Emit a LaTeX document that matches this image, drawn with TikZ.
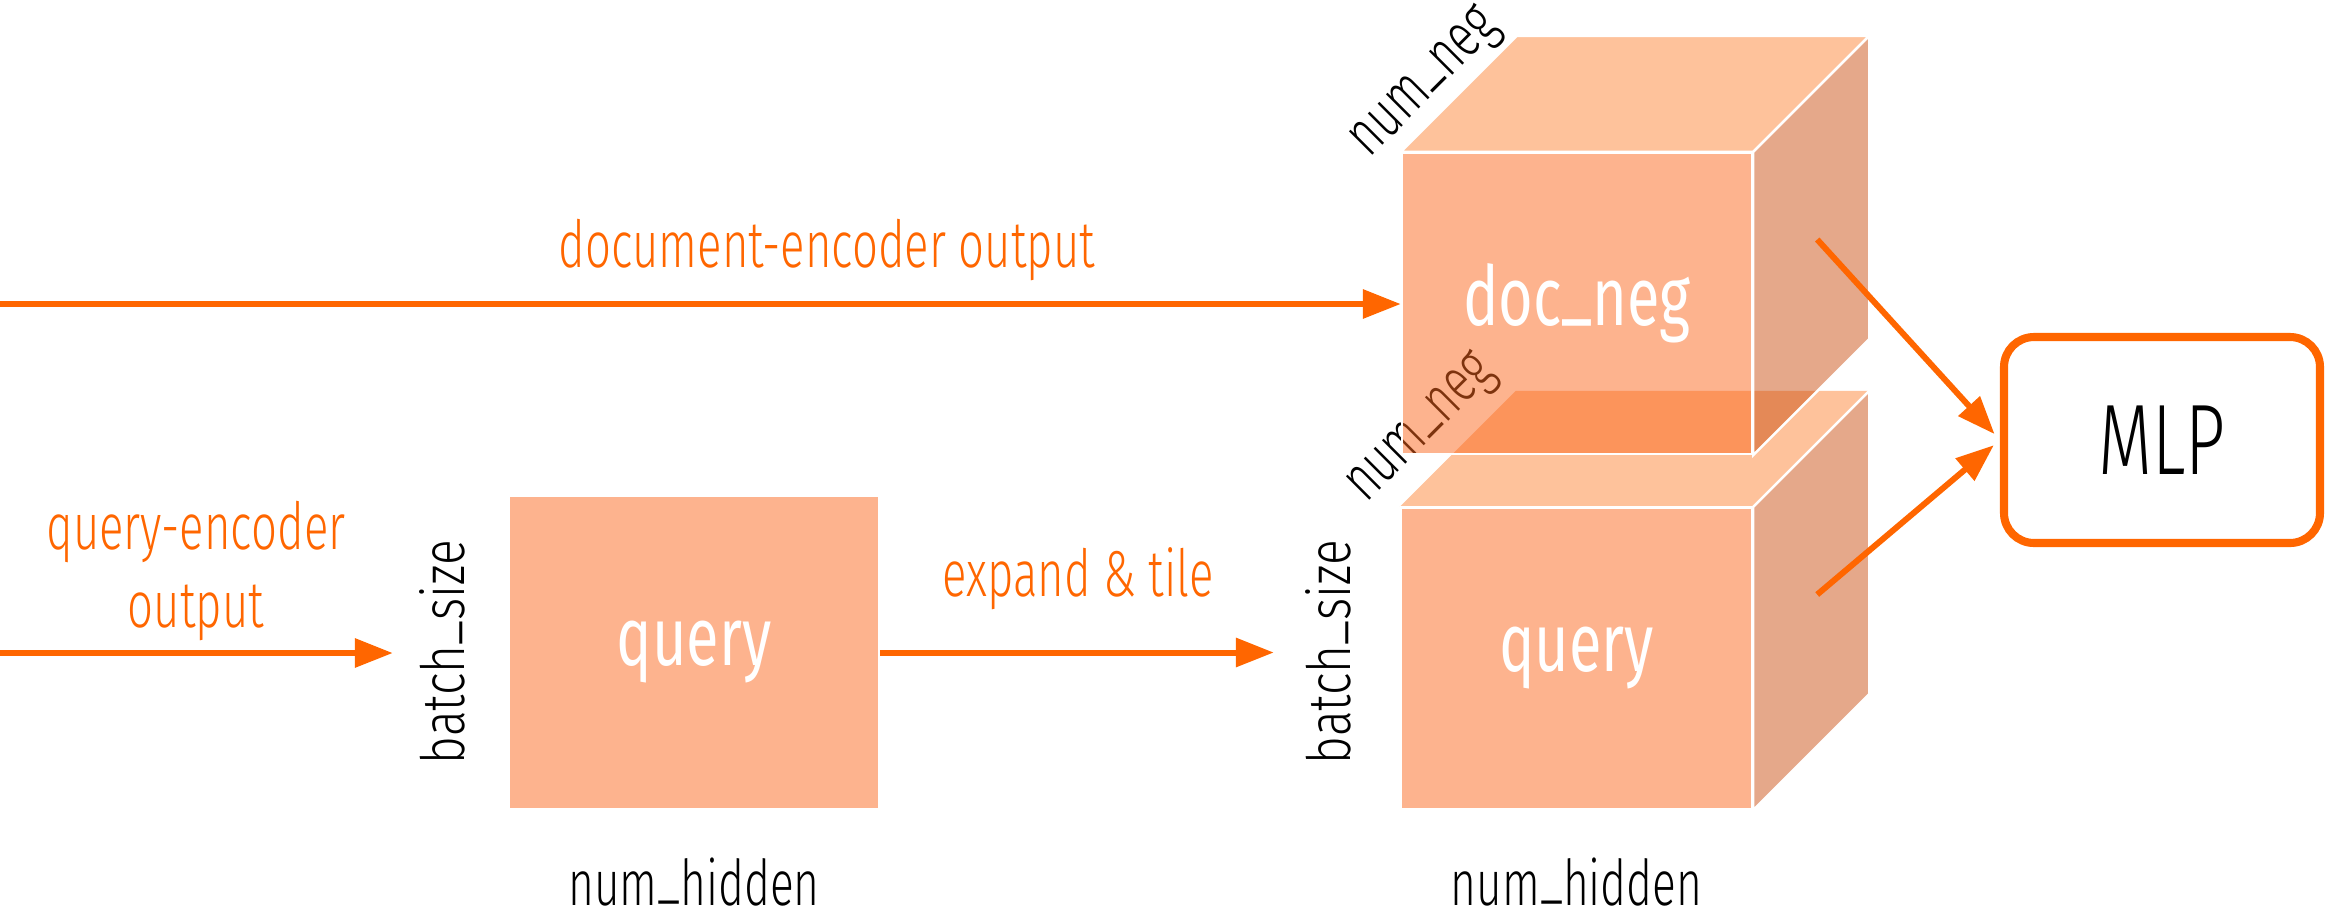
\documentclass[tikz,border=0pt]{standalone}
\usepackage{fontspec}
\newfontfamily\condfont[FakeStretch=0.7]{Fira Sans Light}
\newfontfamily\boxfont[FakeStretch=0.72]{Fira Sans}
\newfontfamily\dimfont[FakeStretch=0.8]{Fira Sans Light}
\usetikzlibrary{arrows.meta,calc,positioning}

\newcommand{\undsc}{\raisebox{0.14em}{\_}}

\definecolor{accent}{RGB}{255,102,0}
\definecolor{frontcol}{RGB}{251,103,29}
\definecolor{topcol}{RGB}{253,133,55}
\definecolor{sidecol}{RGB}{203,81,21}

\tikzset{
	flow/.style = {draw=accent, line width=1.7pt, -{Triangle[length=10.8pt,width=8pt]}},
	tensor/.style = {fill=frontcol, fill opacity=0.5, text opacity=1, draw=white, line width=0.7pt,
		text=white, inner sep=0pt, font=\boxfont\fontsize{23.5}{26}\selectfont},
	topface/.style = {fill=topcol, fill opacity=0.5},
	sideface/.style = {fill=sidecol, fill opacity=0.5},
	whiteline/.style = {draw=white, line width=0.7pt},
	lbl/.style = {text=accent, inner sep=0pt, font=\condfont\fontsize{18.5}{22.2}\selectfont},
	dimtext/.style = {inner sep=1pt, font=\condfont\fontsize{18}{20}\selectfont},
	sizetext/.style = {inner sep=0pt, font=\dimfont\fontsize{17}{19}\selectfont},
	mlpbox/.style = {draw=accent, line width=2.3pt, rounded corners=3mm, fill=white,
		minimum width=31.6mm, minimum height=20.6mm, font=\condfont\fontsize{28.5}{30}\selectfont}
}

\begin{document}
\begin{tikzpicture}[x=0.1mm, y=-0.1mm]
	\useasboundingbox (0,0) rectangle (2326,913);

	% query from the encoder
	\node[tensor, minimum width=37mm, minimum height=31.4mm] (qbox) at (694,652.5) {query};
	\node[sizetext, rotate=90, anchor=base] (bs1) at (464,652) {batch\undsc size};
	\node[dimtext, anchor=base] (hid1) at ($(qbox.south)+(0,95)$) {num\undsc hidden};

	% tiled query
	\node[tensor, minimum width=35.1mm, minimum height=30.1mm] (qfront) at (1576.5,658.5) {query};
	\fill[topface] (qfront.north west) -- ++(116,-116) -- ([shift={(116,-116)}]qfront.north east) -- (qfront.north east) -- cycle;
	\path[sideface, whiteline] (qfront.north east) -- ++(116,-116) -- ([shift={(116,-116)}]qfront.south east) -- (qfront.south east) -- cycle;
	\draw[whiteline] (qfront.north west) -- (qfront.north east);
	\path (qfront.north west) -- ++(116,-116) node[dimtext, pos=0.43, sloped, anchor=south, inner sep=3.5pt] (neg2) {num\undsc neg};
	\node[sizetext, rotate=90, anchor=base] (bs2) at (1350,652) {batch\undsc size};
	\node[dimtext, anchor=base] (hid2) at ($(qfront.south)+(0,95)$) {num\undsc hidden};

	% negative documents, see-through
	\node[tensor, minimum width=35mm, minimum height=30.1mm] (dfront) at (1577,303.5) {doc\undsc neg};
	\path[topface, whiteline] (dfront.north west) -- ++(116,-116) -- ([shift={(116,-116)}]dfront.north east) -- (dfront.north east) -- cycle;
	\path[sideface, whiteline] (dfront.north east) -- ++(116,-116) -- ([shift={(116,-116)}]dfront.south east) -- (dfront.south east) -- cycle;
	\path (dfront.north west) -- ++(116,-116) node[dimtext, pos=0.4, sloped, anchor=south] (neg1) {num\undsc neg};

	\node[mlpbox] (mlp) at (2162,440) {MLP};

	\coordinate (din) at (0,304);
	\coordinate (qin) at (0,653);
	\coordinate (dside) at ([shift={(64,-64)}]dfront.east);
	\coordinate (qside) at ([shift={(64,-64)}]qfront.east);

	\draw[flow] (din) -- (din -| dfront.west);
	\node[lbl, anchor=base] (doclbl) at (827,267) {document-encoder output};
	\draw[flow, shorten >=11.5mm] (qin) -- (qin -| qbox.west);
	\node[lbl, align=center] (qlbl) at (196,571) {query-encoder\\output};
	\draw[flow, shorten >=12.6mm] (qbox.east) -- (qbox.east -| qfront.west);
	\node[lbl, anchor=base] (tilelbl) at (1078,596) {expand \& tile};
	\draw[flow, shorten >=0.8mm] (dside) -- (mlp.west);
	\draw[flow, shorten >=0.8mm] (qside) -- (mlp.west);
\end{tikzpicture}
\end{document}
